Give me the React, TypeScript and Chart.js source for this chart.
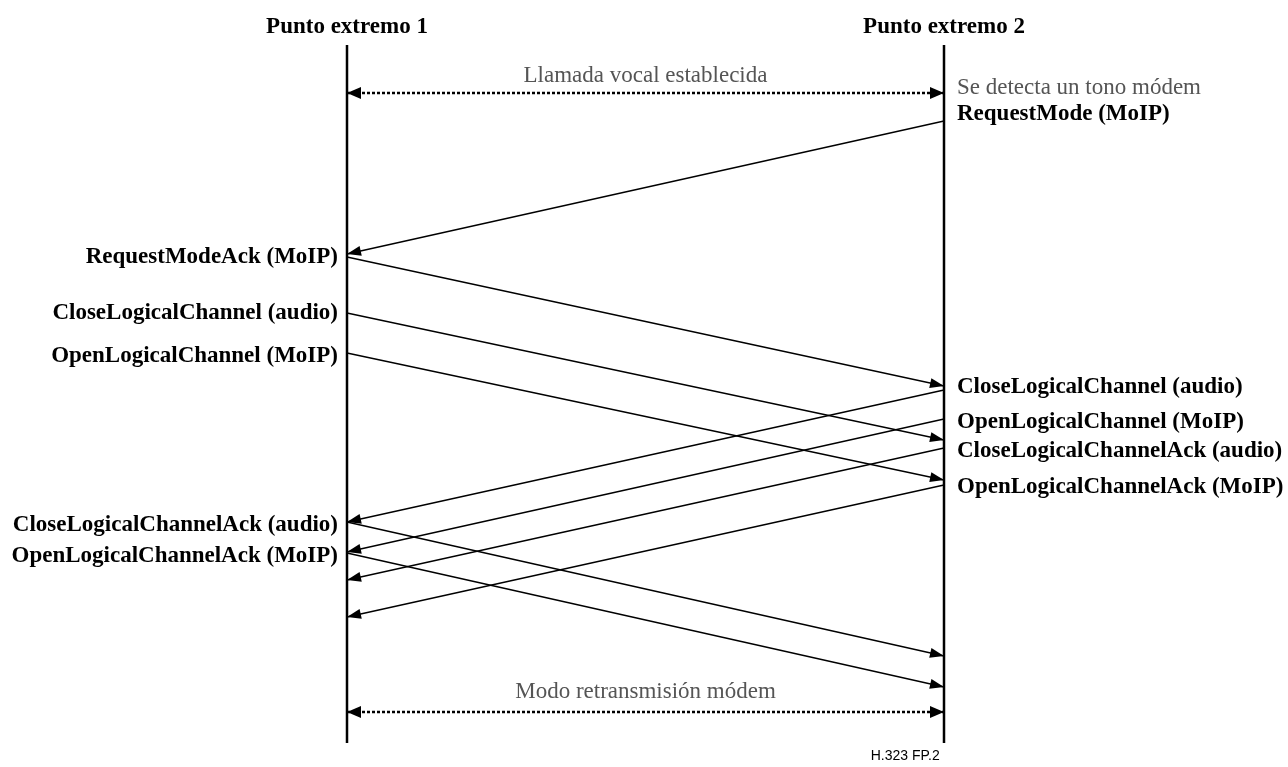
import React, { useEffect, useRef } from 'react';
import { Chart, registerables } from 'chart.js';

Chart.register(...registerables);

// ---- Data ----
const endpointNames = ['Punto extremo 1', 'Punto extremo 2'];
const endpointPos = [0, 1];
const lifelineStart = 45;
const lifelineEnd = 743;
const headerTime = 33;

const messageLabels = [
  'RequestMode (MoIP)',
  'RequestModeAck (MoIP)',
  'CloseLogicalChannel (audio)',
  'OpenLogicalChannel (MoIP)',
  'CloseLogicalChannel (audio)',
  'OpenLogicalChannel (MoIP)',
  'CloseLogicalChannelAck (audio)',
  'OpenLogicalChannelAck (MoIP)',
  'CloseLogicalChannelAck (audio)',
  'OpenLogicalChannelAck (MoIP)',
];
const messageFrom = [1, 0, 0, 0, 1, 1, 1, 1, 0, 0];
const sendTimes = [121, 257, 313, 353, 390, 419, 448, 485, 522, 553];
const arriveTimes = [254, 386, 440, 480, 522, 552, 580, 617, 656, 687];
const labelTimes = [120, 263, 319, 361.5, 393, 428, 457, 493, 531, 562];

const spanLabels = ['Llamada vocal establecida', 'Modo retransmisión módem'];
const spanTimes = [93, 712];
const spanLabelTimes = [82, 698];

const noteLabels = ['Se detecta un tono módem'];
const noteEndpoint = [1];
const noteTimes = [94];

const figureId = 'H.323 FP.2';
const figureIdPos = 0.935;
const figureIdTime = 760;

// ---- Styles ----
const W = 1288;
const H = 767;
const LEFT_PX = 347;
const RIGHT_PX = 944;
const GRAY = '#555555';
const BOLD_FONT = 'bold 23px "Liberation Serif", "Times New Roman", serif';
const REG_FONT = '23px "Liberation Serif", "Times New Roman", serif';

const diagramPlugin = {
  id: 'diagram',
  afterDatasetsDraw(chart: any) {
    const { ctx } = chart;
    const xs = chart.scales.x;
    const ys = chart.scales.y;
    const px = (v: number) => xs.getPixelForValue(v);
    const py = (v: number) => ys.getPixelForValue(v);
    ctx.save();

    const head = (x1: number, y1: number, x2: number, y2: number, len: number, half: number) => {
      const dx = x2 - x1;
      const dy = y2 - y1;
      const d = Math.hypot(dx, dy) || 1;
      const ux = dx / d;
      const uy = dy / d;
      const bx = x2 - ux * len;
      const by = y2 - uy * len;
      ctx.beginPath();
      ctx.moveTo(x2, y2);
      ctx.lineTo(bx - uy * half, by + ux * half);
      ctx.lineTo(bx + uy * half, by - ux * half);
      ctx.closePath();
      ctx.fillStyle = '#000';
      ctx.fill();
    };

    messageFrom.forEach((f, i) => {
      const t = 1 - f;
      head(px(endpointPos[f]), py(sendTimes[i]), px(endpointPos[t]), py(arriveTimes[i]), 14, 5);
    });

    spanTimes.forEach((t) => {
      const mid = (endpointPos[0] + endpointPos[1]) / 2;
      head(px(mid), py(t), px(endpointPos[0]), py(t), 14, 6);
      head(px(mid), py(t), px(endpointPos[1]), py(t), 14, 6);
    });

    ctx.textBaseline = 'alphabetic';

    // headers
    ctx.font = BOLD_FONT;
    ctx.fillStyle = '#000';
    ctx.textAlign = 'center';
    endpointNames.forEach((n, i) => {
      ctx.fillText(n, px(endpointPos[i]), py(headerTime));
    });

    // message labels at sender side
    messageLabels.forEach((lab, i) => {
      const f = messageFrom[i];
      if (f === 0) {
        ctx.textAlign = 'right';
        ctx.fillText(lab, px(endpointPos[0]) - 9, py(labelTimes[i]));
      } else {
        ctx.textAlign = 'left';
        ctx.fillText(lab, px(endpointPos[1]) + 13, py(labelTimes[i]));
      }
    });

    // gray texts
    ctx.font = REG_FONT;
    ctx.fillStyle = GRAY;
    ctx.textAlign = 'center';
    spanLabels.forEach((lab, i) => {
      const mid = (endpointPos[0] + endpointPos[1]) / 2;
      ctx.fillText(lab, px(mid), py(spanLabelTimes[i]));
    });
    ctx.textAlign = 'left';
    noteLabels.forEach((lab, i) => {
      ctx.fillText(lab, px(endpointPos[noteEndpoint[i]]) + 13, py(noteTimes[i]));
    });

    // figure id
    ctx.font = '14px "Liberation Sans", Arial, sans-serif';
    ctx.fillStyle = '#000';
    ctx.textAlign = 'center';
    ctx.fillText(figureId, px(figureIdPos), py(figureIdTime));

    ctx.restore();
  },
};

export default function App() {
  const canvasRef = useRef<HTMLCanvasElement | null>(null);

  useEffect(() => {
    const canvas = canvasRef.current;
    if (!canvas) return;

    const unit = RIGHT_PX - LEFT_PX;
    const xMin = -LEFT_PX / unit;
    const xMax = (W - LEFT_PX) / unit;

    const datasets: any[] = [];

    endpointPos.forEach((p) => {
      datasets.push({
        data: [
          { x: p, y: lifelineStart },
          { x: p, y: lifelineEnd },
        ],
        showLine: true,
        borderColor: '#000',
        borderWidth: 2.5,
        pointRadius: 0,
      });
    });

    messageFrom.forEach((f, i) => {
      const t = 1 - f;
      datasets.push({
        data: [
          { x: endpointPos[f], y: sendTimes[i] },
          { x: endpointPos[t], y: arriveTimes[i] },
        ],
        showLine: true,
        borderColor: '#000',
        borderWidth: 1.3,
        pointRadius: 0,
      });
    });

    spanTimes.forEach((t) => {
      datasets.push({
        data: [
          { x: endpointPos[0], y: t },
          { x: endpointPos[1], y: t },
        ],
        showLine: true,
        borderColor: '#000',
        borderWidth: 2.5,
        borderDash: [3, 2],
        pointRadius: 0,
      });
    });

    const chart = new Chart(canvas, {
      type: 'scatter',
      data: { datasets },
      options: {
        animation: false,
        responsive: false,
        devicePixelRatio: 1,
        layout: { padding: 0 },
        events: [],
        plugins: {
          legend: { display: false },
          tooltip: { enabled: false },
          title: { display: false },
        },
        scales: {
          x: { type: 'linear', min: xMin, max: xMax, display: false },
          y: { type: 'linear', min: 0, max: H, reverse: true, display: false },
        },
      },
      plugins: [diagramPlugin],
    } as any);

    return () => chart.destroy();
  }, []);

  return (
    <div style={{ position: 'absolute', left: 0, top: 0, width: W, height: H, background: '#fff' }}>
      <canvas ref={canvasRef} width={W} height={H} style={{ width: W, height: H, display: 'block' }} />
    </div>
  );
}
